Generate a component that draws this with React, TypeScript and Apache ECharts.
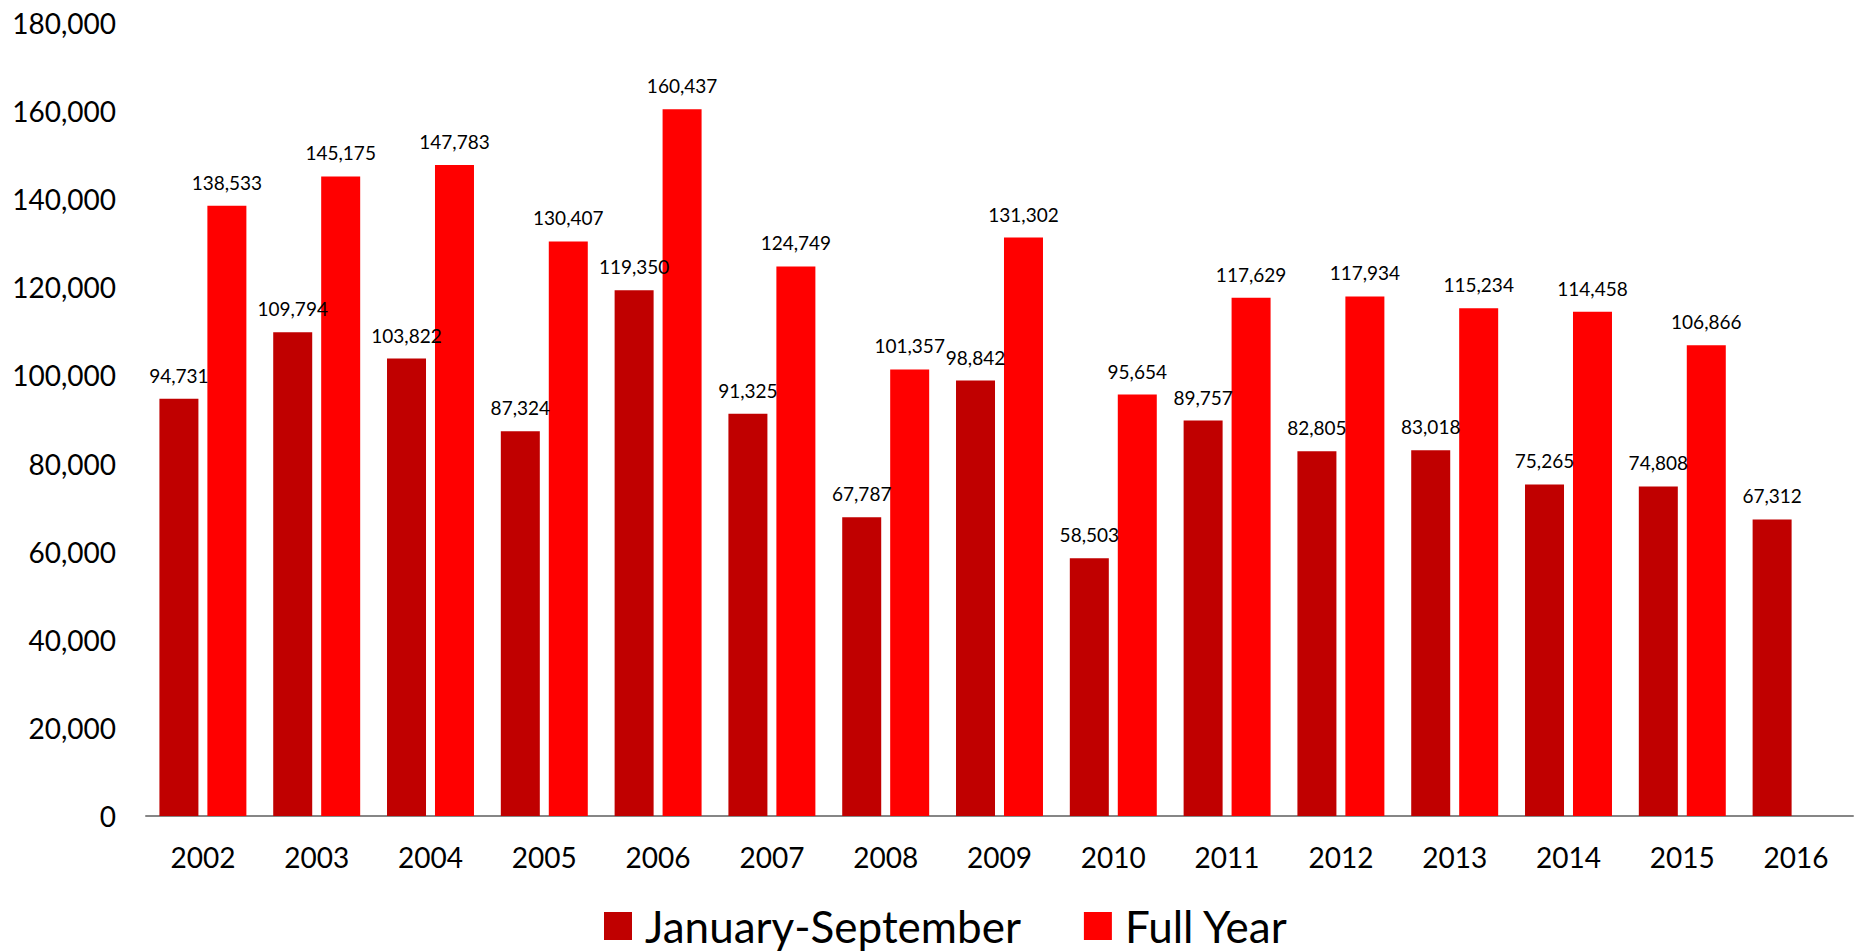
import React, { useEffect, useRef } from "react";
import * as echarts from "echarts";

const categories = ["2002", "2003", "2004", "2005", "2006", "2007", "2008", "2009", "2010", "2011", "2012", "2013", "2014", "2015", "2016"];
const janSep = [94731, 109794, 103822, 87324, 119350, 91325, 67787, 98842, 58503, 89757, 82805, 83018, 75265, 74808, 67312];
const fullYear: (number | null)[] = [138533, 145175, 147783, 130407, 160437, 124749, 101357, 131302, 95654, 117629, 117934, 115234, 114458, 106866, null];
const seriesNames = ["January-September", "Full Year"];
const yTicks = { min: 0, max: 180000, interval: 20000 };

const FONT = "Lato";
const fmt = (v: number) => v.toLocaleString("en-US");

export default function App() {
  const ref = useRef<HTMLDivElement>(null);
  useEffect(() => {
    if (!ref.current) return;
    const chart = echarts.init(ref.current, null, { renderer: "svg" });
    const labelCfg = {
      show: true,
      position: "top" as const,
      distance: 14,
      color: "#000",
      fontFamily: FONT,
      fontSize: 19,
      formatter: (p: any) => fmt(p.value),
    };
    chart.setOption({
      animation: false,
      backgroundColor: "#fff",
      textStyle: { fontFamily: FONT },
      grid: { left: 146, right: 5, top: 23, bottom: 136, containLabel: false },
      legend: {
        data: seriesNames,
        left: 604,
        top: 904,
        padding: 0,
        itemWidth: 28,
        itemHeight: 28,
        itemGap: 63,
        icon: "rect",
        textStyle: { fontFamily: FONT, fontSize: 44, lineHeight: 44, color: "#000", padding: [0, 0, 0, 8] },
      },
      xAxis: {
        type: "category",
        data: categories,
        axisLine: { show: true, lineStyle: { color: "#868686", width: 2 } },
        axisTick: { show: false },
        axisLabel: { color: "#000", fontFamily: FONT, fontSize: 28, margin: 27 },
      },
      yAxis: {
        type: "value",
        min: yTicks.min,
        max: yTicks.max,
        interval: yTicks.interval,
        axisLine: { show: false },
        axisTick: { show: false },
        splitLine: { show: false },
        axisLabel: { color: "#000", fontFamily: FONT, fontSize: 28, margin: 30, formatter: (v: number) => fmt(v) },
      },
      series: [
        {
          name: seriesNames[0],
          type: "bar",
          data: janSep,
          barWidth: 39,
          barGap: "23%",
          itemStyle: { color: "#C00000" },
          label: labelCfg,
        },
        {
          name: seriesNames[1],
          type: "bar",
          data: fullYear,
          barWidth: 39,
          barGap: "23%",
          itemStyle: { color: "#FF0000" },
          label: labelCfg,
        },
      ],
    });
    return () => chart.dispose();
  }, []);
  return <div ref={ref} style={{ position: "fixed", left: 0, top: 0, width: 1858, height: 952 }} />;
}
